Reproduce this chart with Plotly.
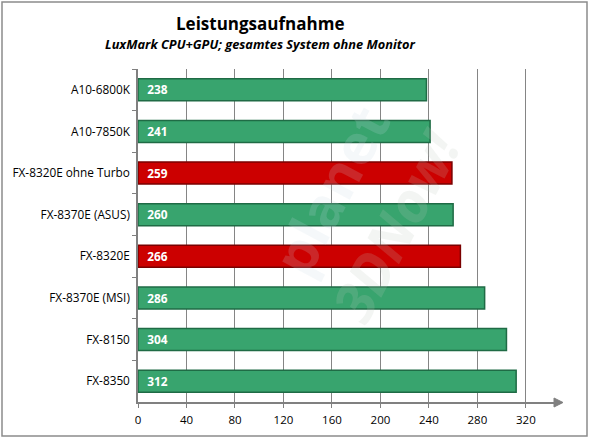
import plotly.graph_objects as go

categories = ["A10-6800K", "A10-7850K", "FX-8320E ohne Turbo", "FX-8370E (ASUS)",
              "FX-8320E", "FX-8370E (MSI)", "FX-8150", "FX-8350"]
values = [238, 241, 259, 260, 266, 286, 304, 312]
highlight = [False, False, True, False, True, False, False, False]
tick_vals = [0, 40, 80, 120, 160, 200, 240, 280, 320]

GREEN = "#38a46e"
GREEN_EDGE = "#1f6b45"
RED = "#cc0000"
RED_EDGE = "#7a0000"

colors = [RED if h else GREEN for h in highlight]
edges = [RED_EDGE if h else GREEN_EDGE for h in highlight]

L, R, T, B = 138, 28, 69, 36
W, H = 589, 438
pw, ph = W - L - R, H - T - B
XMAX = 349

def px(p):
    return (p - L) / pw

def py(p):
    return (H - B - p) / ph

fig = go.Figure()
fig.add_trace(go.Bar(
    x=values, y=categories, orientation="h",
    marker=dict(color=colors, line=dict(color=edges, width=1.5)),
    width=0.53,
    text=[str(v) for v in values],
    texttemplate="  %{text}",
    textposition="inside", insidetextanchor="start",
    textfont=dict(family="Open Sans", size=14, color="white", weight="bold"),
    hoverinfo="skip",
))

shapes = [
    dict(type="rect", xref="paper", yref="paper",
         x0=px(2), x1=px(587), y0=py(436), y1=py(2),
         line=dict(color="#8c8c8c", width=1.5), layer="below"),
    dict(type="path", xref="paper", yref="paper",
         path=f"M {px(554)} {py(398)} L {px(563)} {py(402.5)} L {px(554)} {py(407)} Z",
         fillcolor="#808080", line=dict(color="#808080", width=1)),
]

annotations = [
    dict(text="<b>Leistungsaufnahme</b>", xref="paper", yref="paper",
         x=px(260), y=py(23), xanchor="center", yanchor="middle", showarrow=False,
         font=dict(family="Open Sans", size=17, color="black")),
    dict(text="<b><i>LuxMark CPU+GPU; gesamtes System ohne Monitor</i></b>",
         xref="paper", yref="paper", x=px(260), y=py(44),
         xanchor="center", yanchor="middle", showarrow=False,
         font=dict(family="Open Sans", size=12.8, color="black")),
    dict(text="<b>planet</b>", xref="paper", yref="paper", x=px(330), y=py(190),
         xanchor="center", yanchor="middle",
         showarrow=False, textangle=-62,
         font=dict(family="Open Sans", size=56, color="rgba(200,215,225,0.18)")),
    dict(text="<b><i>3DNow!</i></b>", xref="paper", yref="paper", x=px(395), y=py(225),
         xanchor="center", yanchor="middle",
         showarrow=False, textangle=-62,
         font=dict(family="Open Sans", size=56, color="rgba(190,200,190,0.18)")),
]

fig.update_layout(
    width=W, height=H,
    margin=dict(l=L, r=R, t=T, b=B, autoexpand=False),
    paper_bgcolor="white", plot_bgcolor="white",
    showlegend=False,
    shapes=shapes, annotations=annotations,
    xaxis=dict(range=[0, XMAX], tickvals=tick_vals, showgrid=True,
               gridcolor="#858585", gridwidth=1, zeroline=False,
               showline=True, linecolor="#808080", linewidth=1.5,
               ticks="outside", ticklen=4, tickcolor="#808080",
               ticklabelstandoff=2, automargin=False,
               tickfont=dict(family="Open Sans", size=11.5, color="black")),
    yaxis=dict(categoryorder="array", categoryarray=categories,
               autorange="reversed", showgrid=False, zeroline=False,
               showline=True, linecolor="#808080", linewidth=1.5,
               ticks="outside", ticklen=4, tickcolor="#808080",
               tickson="boundaries", ticklabelstandoff=4, automargin=False,
               tickfont=dict(family="Open Sans", size=11.8, color="black")),
)

fig.write_html("out.html")
